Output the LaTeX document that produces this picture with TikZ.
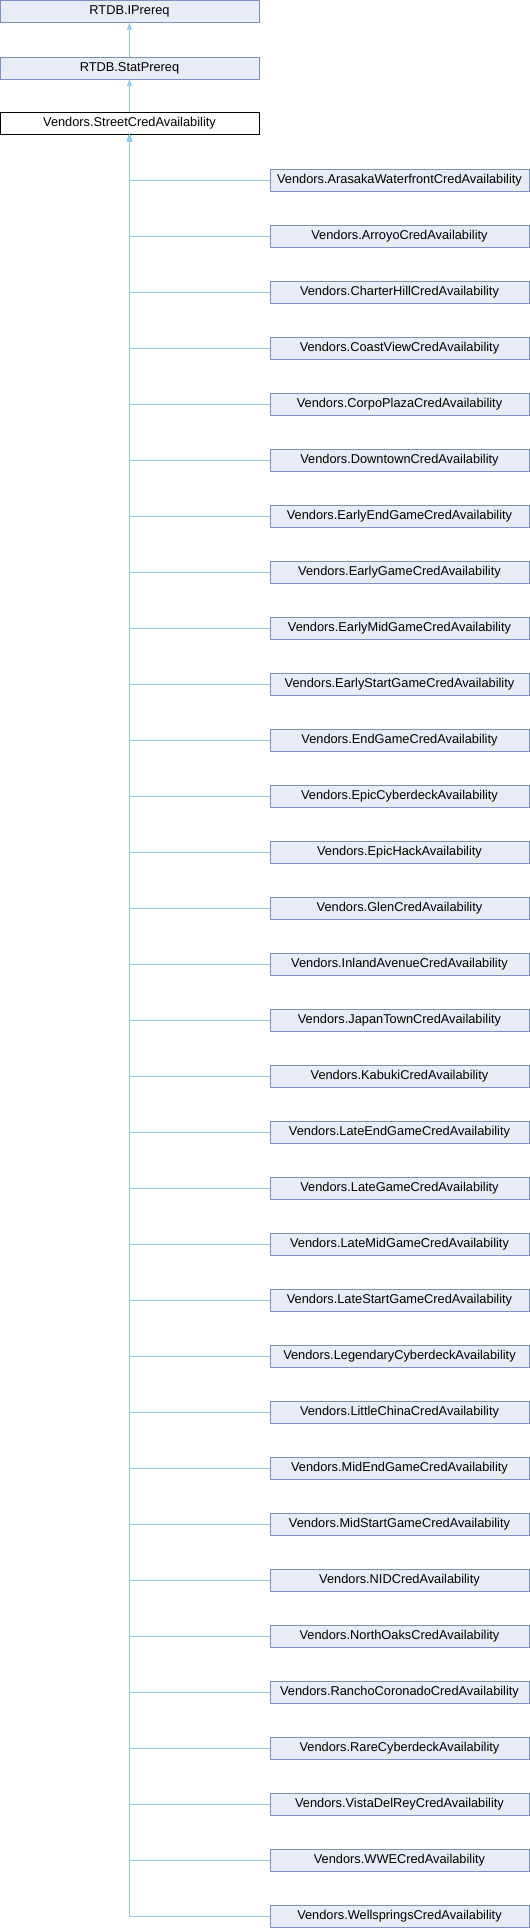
\documentclass[tikz,border=0pt]{standalone}
\usepackage{fontspec}
\setmainfont{Liberation Sans}
\usetikzlibrary{arrows.meta}
\definecolor{boxfill}{HTML}{E8ECF5}
\definecolor{boxline}{HTML}{7F8FC4}
\definecolor{edgeblue}{HTML}{93CBEA}
\begin{document}
\begin{tikzpicture}[x=1pt,y=-1pt]
  \useasboundingbox (0,0) rectangle (530,1928);

  \tikzset{
    cls/.style={draw=boxline, fill=boxfill, minimum width=259pt, minimum height=22pt,
      inner sep=0pt, font=\fontsize{12.8}{14}\selectfont},
    cur/.style={cls, draw=black, fill=white},
    inh/.style={draw=edgeblue, line width=0.8pt, -{Triangle[width=5pt,length=7pt]}}
  }

  \node[cls] (ip) at (129.5,11.5) {RTDB.IPrereq};
  \node[cls] (sp) at (129.5,68) {RTDB.StatPrereq};
  \node[cur] (sc) at (129.5,123) {Vendors.StreetCredAvailability};

  \path (sp) edge[inh] (ip);
  \path (sc) edge[inh] (sp);

  \foreach \name [count=\i from 0] in {ArasakaWaterfront,Arroyo,CharterHill,CoastView,CorpoPlaza,
      Downtown,EarlyEndGame,EarlyGame,EarlyMidGame,EarlyStartGame,EndGame,EpicCyberdeck,EpicHack,
      Glen,InlandAvenue,JapanTown,Kabuki,LateEndGame,LateGame,LateMidGame,LateStartGame,
      LegendaryCyberdeck,LittleChina,MidEndGame,MidStartGame,NID,NorthOaks,RanchoCoronado,
      RareCyberdeck,VistaDelRey,WWE,Wellsprings}{
    \ifnum\pdfstrcmp{\name}{EpicCyberdeck}=0 \def\full{Vendors.EpicCyberdeckAvailability}%
    \else\ifnum\pdfstrcmp{\name}{EpicHack}=0 \def\full{Vendors.EpicHackAvailability}%
    \else\ifnum\pdfstrcmp{\name}{LegendaryCyberdeck}=0 \def\full{Vendors.LegendaryCyberdeckAvailability}%
    \else\ifnum\pdfstrcmp{\name}{RareCyberdeck}=0 \def\full{Vendors.RareCyberdeckAvailability}%
    \else \def\full{Vendors.\name CredAvailability}\fi\fi\fi\fi
    \node[cls] (c\i) at (399.5,180+56*\i) {\full};
    \draw[inh] (c\i.west) -| (sc.south);
  }
\end{tikzpicture}
\end{document}
